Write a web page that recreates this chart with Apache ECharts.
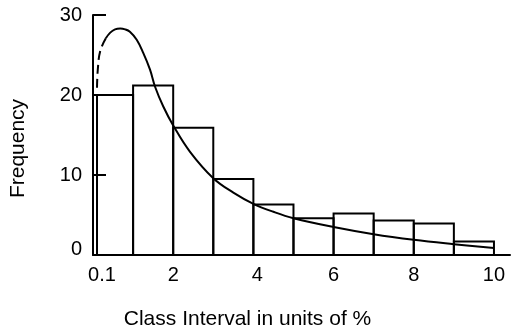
<!DOCTYPE html>
<html>
<head>
<meta charset="utf-8">
<script src="https://cdn.jsdelivr.net/npm/echarts@6/dist/echarts.min.js"></script>
<style>html,body{margin:0;padding:0;background:#fff;}#chart{width:513px;height:335px;}</style>
</head>
<body>
<div id="chart"></div>
<script>
// Histogram class edges (%) and frequencies
const binEdges = [0.1, 1, 2, 3, 4, 5, 6, 7, 8, 9, 10];
const frequency = [20.0, 21.2, 15.9, 9.5, 6.3, 4.6, 5.2, 4.3, 3.95, 1.7];
// Fitted curve: dashed (extrapolated) part and solid part
const fitDashedX = [0.1, 0.12, 0.18, 0.32];
const fitDashedY = [20.9, 23.2, 25.5, 27.1];
const fitX = [0.32, 0.43, 0.55, 0.68, 0.8, 0.92, 1.09, 1.25, 1.42, 1.55, 1.75, 2.0, 2.42, 3.0, 3.5, 4.0, 4.5, 5.0, 6.0, 7.0, 8.0, 9.0, 10.0];
const fitY = [27.1, 27.8, 28.2, 28.3, 28.2, 27.9, 26.9, 25.3, 23.2, 21.0, 18.6, 16.2, 12.9, 9.6, 7.8, 6.4, 5.4, 4.6, 3.5, 2.6, 1.9, 1.35, 0.86];
const xTickLabels = [0.1, 2, 4, 6, 8, 10];
const xAxisName = 'Class Interval in units of %';
const yAxisName = 'Frequency';

const barData = frequency.map((f, i) => [binEdges[i], binEdges[i + 1], f]);
const font = '"Liberation Sans", Arial, sans-serif';

const chart = echarts.init(document.getElementById('chart'), null, {renderer: 'canvas'});
chart.setOption({
  animation: false,
  backgroundColor: '#fff',
  grid: {left: 92, right: 3, top: 15, bottom: 77, containLabel: false},
  xAxis: {
    type: 'value', min: 0, max: 10.4,
    axisLine: {show: true, onZero: false, lineStyle: {color: '#000', width: 2}},
    axisTick: {show: false},
    splitLine: {show: false},
    axisLabel: {
      customValues: xTickLabels,
      color: '#000', fontSize: 20, fontFamily: font, margin: 10,
      formatter: v => v === 0.1 ? '{a|0.1}' : (v === 4 ? '{b|4}' : String(v)),
      rich: {
        a: {fontSize: 20, fontFamily: font, color: '#000', padding: [0, 0, 0, 10]},
        b: {fontSize: 20, fontFamily: font, color: '#000', padding: [0, 0, 0, 8]}
      }
    },
    name: xAxisName, nameLocation: 'middle', nameGap: 54,
    nameTextStyle: {color: '#000', fontSize: 21, fontFamily: font, padding: [0, 108, 0, 0]}
  },
  yAxis: {
    type: 'value', min: 0, max: 30, interval: 10,
    axisLine: {show: true, lineStyle: {color: '#000', width: 2}},
    axisTick: {show: true, inside: true, length: 13, lineStyle: {color: '#000', width: 2}},
    splitLine: {show: false},
    axisLabel: {
      color: '#000', fontSize: 20, fontFamily: font, margin: 11,
      formatter: v => v === 0 ? '{z|0}' : String(v),
      rich: {z: {fontSize: 20, fontFamily: font, color: '#000', padding: [0, 0, 12, 0]}}
    },
    name: yAxisName, nameLocation: 'middle', nameGap: 64,
    nameTextStyle: {color: '#000', fontSize: 21, fontFamily: font, padding: [0, 27, 0, 0]}
  },
  series: [
    {
      type: 'custom',
      data: barData,
      encode: {x: [0, 1], y: 2},
      z: 2,
      renderItem: function (params, api) {
        const s = api.coord([api.value(0), api.value(2)]);
        const e = api.coord([api.value(1), 0]);
        return {
          type: 'rect',
          shape: {x: s[0], y: s[1], width: e[0] - s[0], height: e[1] - s[1]},
          style: {fill: 'transparent', stroke: '#000', lineWidth: 2}
        };
      }
    },
    {
      type: 'line', z: 3,
      data: fitDashedX.map((x, i) => [x, fitDashedY[i]]),
      smooth: 0.4, showSymbol: false,
      lineStyle: {color: '#000', width: 2, type: [9, 5]}
    },
    {
      type: 'line', z: 3,
      data: fitX.map((x, i) => [x, fitY[i]]),
      smooth: 0.4, showSymbol: false,
      lineStyle: {color: '#000', width: 2}
    }
  ]
});
</script>
</body>
</html>
